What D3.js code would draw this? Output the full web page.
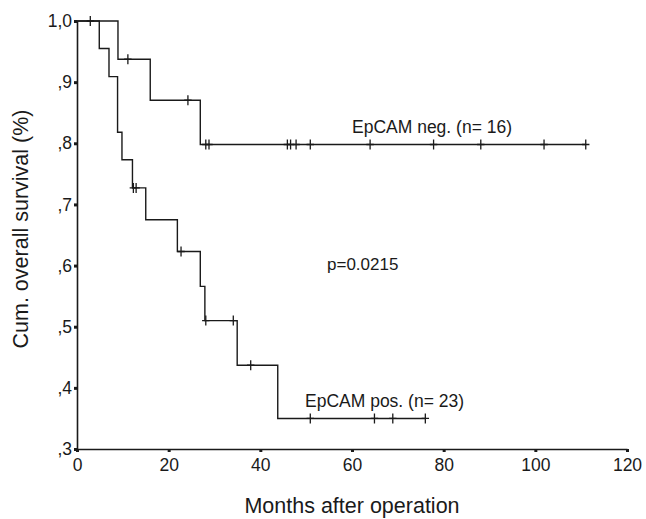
<!DOCTYPE html>
<html>
<head>
<meta charset="utf-8">
<script src="https://cdn.jsdelivr.net/npm/d3@7"></script>
<style>
  body { margin: 0; background: #fff; }
  text { font-family: "Liberation Sans", Arial, sans-serif; fill: #1a1a1a; }
</style>
</head>
<body>
<svg width="646" height="519"></svg>
<script>
// Step data (months, cumulative survival)
const negTimes = [0, 8.94, 15.98, 26.9];
const negSurv = [1.0, 0.9375, 0.8705, 0.798];
const negCensor = [11.1, 24.2, 28.1, 28.8, 45.9, 46.6, 47.8, 50.9, 63.95, 77.8, 88.1, 101.9, 111];

const posTimes = [0, 4.86, 6.98, 8.85, 9.81, 12.1, 15.0, 21.9, 26.9, 27.9, 34.95, 43.8];
const posSurv = [1.0, 0.955, 0.909, 0.818, 0.773, 0.727, 0.675, 0.623, 0.566, 0.51, 0.437, 0.35];
const posCensor = [2.9, 12.3, 12.9, 22.7, 28.1, 34.1, 37.9, 50.9, 64.9, 68.9, 76.0];

const xTicks = [0, 20, 40, 60, 80, 100, 120];
const yTicks = [0.3, 0.4, 0.5, 0.6, 0.7, 0.8, 0.9, 1.0];
const yTickLabels = [",3", ",4", ",5", ",6", ",7", ",8", ",9", "1,0"];

// Set SVG dimensions
const margin = { top: 21, right: 19, bottom: 70, left: 77 },
      width = 646 - margin.left - margin.right,
      height = 519 - margin.top - margin.bottom;

const svg = d3.select("svg")
    .append("g")
    .attr("transform", `translate(${margin.left},${margin.top})`);

const x = d3.scaleLinear().domain([0, 120]).range([0, width]);
const y = d3.scaleLinear().domain([0.3, 1.0]).range([height, 0]);

// Axes
const xAxis = svg.append("g")
    .attr("transform", `translate(0,${height})`)
    .call(d3.axisBottom(x).tickValues(xTicks).tickSize(3).tickPadding(7).tickSizeOuter(0));

const yAxis = svg.append("g")
    .call(d3.axisLeft(y).tickValues(yTicks).tickSize(3).tickPadding(2).tickSizeOuter(0)
        .tickFormat((d, i) => yTickLabels[i]));

[xAxis, yAxis].forEach(a => {
    a.select(".domain").attr("stroke", "#1a1a1a").attr("stroke-width", 1.6);
    a.selectAll(".tick line").attr("stroke", "#1a1a1a").attr("stroke-width", 3);
    a.selectAll(".tick text").style("font-size", "17.5px").attr("fill", "#1a1a1a");
});

// Step line builder
function stepPoints(times, surv, end) {
    const pts = [];
    times.forEach((t, i) => pts.push([t, surv[i]]));
    pts.push([end, surv[surv.length - 1]]);
    return pts;
}
function survAt(times, surv, t) {
    let s = surv[0];
    times.forEach((tt, i) => { if (tt <= t) s = surv[i]; });
    return s;
}

const line = d3.line()
    .x(d => x(d[0]))
    .y(d => y(d[1]))
    .curve(d3.curveStepAfter);

const groups = [
    { times: negTimes, surv: negSurv, censor: negCensor },
    { times: posTimes, surv: posSurv, censor: posCensor }
];

groups.forEach(g => {
    const end = d3.max(g.censor.concat(g.times));
    svg.append("path")
        .datum(stepPoints(g.times, g.surv, end))
        .attr("fill", "none")
        .attr("stroke", "#1a1a1a")
        .attr("stroke-width", 1.4)
        .attr("d", line);

    // Censor marks
    svg.selectAll(null)
        .data(g.censor)
        .enter()
        .append("path")
        .attr("fill", "none")
        .attr("stroke", "#1a1a1a")
        .attr("stroke-width", 1.3)
        .attr("d", t => {
            const cx = x(t), cy = y(survAt(g.times, g.surv, t));
            return `M${cx - 3.7},${cy}H${cx + 3.7}M${cx},${cy - 5}V${cy + 5}`;
        });
});

// Group labels and p-value
svg.append("text")
    .attr("x", 352 - margin.left)
    .attr("y", 133 - margin.top)
    .style("font-size", "17.5px")
    .text("EpCAM neg. (n= 16)");

svg.append("text")
    .attr("x", 305 - margin.left)
    .attr("y", 407 - margin.top)
    .style("font-size", "17.5px")
    .text("EpCAM pos. (n= 23)");

svg.append("text")
    .attr("x", 327 - margin.left)
    .attr("y", 270 - margin.top)
    .style("font-size", "17px")
    .text("p=0.0215");

// Axis titles
svg.append("text")
    .attr("x", width / 2)
    .attr("y", 513 - margin.top)
    .attr("text-anchor", "middle")
    .style("font-size", "21.5px")
    .text("Months after operation");

svg.append("text")
    .attr("transform", "rotate(-90)")
    .attr("x", -(229 - margin.top))
    .attr("y", 28 - margin.left)
    .attr("text-anchor", "middle")
    .style("font-size", "21.5px")
    .text("Cum. overall survival (%)");
</script>
</body>
</html>
